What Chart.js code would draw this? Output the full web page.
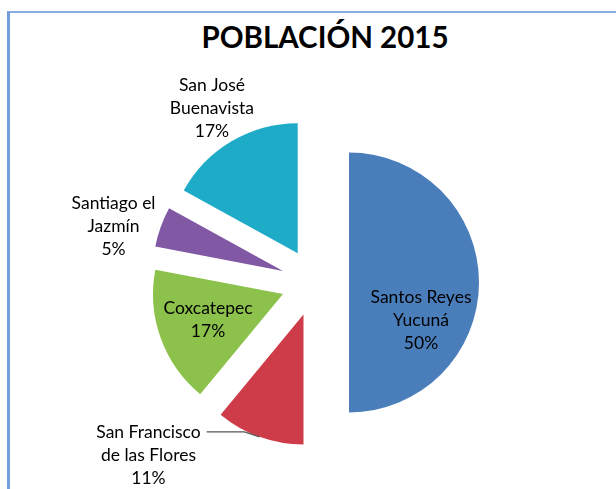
<!DOCTYPE html>
<html>
<head>
<meta charset="utf-8">
<script src="https://cdn.jsdelivr.net/npm/chart.js@4"></script>
<style>
  body { margin: 0; background: #fff; }
  #wrap { position: relative; width: 616px; height: 489px; overflow: hidden; }
  #frame {
    position: absolute; left: 7px; top: 11px; width: 700px; height: 600px;
    border-left: 3px solid #6f9fdc; border-top: 2px solid #86aee0;
  }
  #title {
    position: absolute; left: 0; top: 22px; width: 650px; text-align: center;
    font: bold 29.5px Lato, sans-serif; line-height: 30px; color: #000;
  }
  canvas { position: absolute; left: 0; top: 0; }
</style>
</head>
<body>
<div id="wrap">
  <div id="frame"></div>
  <div id="title">POBLACIÓN 2015</div>
  <canvas id="popChart" width="616" height="489"></canvas>
</div>
<script>
// Data
const categories = ['Santos Reyes Yucuná', 'San Francisco de las Flores', 'Coxcatepec', 'Santiago el Jazmín', 'San José Buenavista'];
const shares = [50, 11, 17, 5, 17];
const labelLines = [['Santos Reyes', 'Yucuná'], ['San Francisco', 'de las Flores'], ['Coxcatepec'], ['Santiago el', 'Jazmín'], ['San José', 'Buenavista']];
const sliceColors = ['#4a7ebb', '#cd3c48', '#8cc24b', '#8058a3', '#1eabc8'];

// label placement around the pie centre: [angle in degrees, distance in radii]
const labelPlace = [[19.5, 0.865], [134, 1.844], [160.7, 0.872], [195.6, 1.609], [239.4, 1.557]];
const leader = [false, true, false, false, false];

const RADIUS = 130;
const EXPLODE = 136; // chart.js moves each slice by offset / 4

// chart.js grows the radius by (offset/4)*fix and trims the slice angle for it,
// undo both so every slice keeps the same radius and its full angle
const evenRadius = {
    id: 'evenRadius',
    beforeDatasetsDraw(chart) {
        chart.getDatasetMeta(0).data.forEach(arc => {
            if (!arc.$base) arc.$base = [arc.startAngle, arc.endAngle];
            const fix = 1 - Math.sin(Math.min(Math.PI, arc.circumference));
            const grow = (EXPLODE / 4) * fix;
            const trim = grow / (2 * Math.PI * RADIUS);
            arc.outerRadius = RADIUS - grow;
            arc.startAngle = arc.$base[0] - trim;
            arc.endAngle = arc.$base[1] + trim;
        });
    }
};

const sliceLabels = {
    id: 'sliceLabels',
    afterDatasetsDraw(chart) {
        const ctx = chart.ctx;
        const meta = chart.getDatasetMeta(0);
        const lineH = 23;
        ctx.save();
        ctx.font = '17.5px Lato, sans-serif';
        ctx.fillStyle = '#000';
        ctx.textAlign = 'center';
        ctx.textBaseline = 'middle';
        meta.data.forEach((arc, i) => {
            const a = labelPlace[i][0] * Math.PI / 180;
            const cx = arc.x + Math.cos(a) * labelPlace[i][1] * RADIUS;
            const cy = arc.y + Math.sin(a) * labelPlace[i][1] * RADIUS;
            const lines = labelLines[i].concat([shares[i] + '%']);
            const top = cy - (lines.length - 1) * lineH / 2;
            lines.forEach((t, j) => ctx.fillText(t, cx, top + j * lineH));

            if (leader[i]) {
                const mid = (arc.startAngle + arc.endAngle) / 2;
                const sx = arc.x + Math.cos(mid) * EXPLODE / 4;
                const sy = arc.y + Math.sin(mid) * EXPLODE / 4;
                const ex = sx + Math.cos(mid) * RADIUS;
                const ey = sy + Math.sin(mid) * RADIUS;
                const x0 = cx + ctx.measureText(lines[0]).width / 2 + 6;
                ctx.beginPath();
                ctx.moveTo(x0, top);
                ctx.lineTo(ex - 15, top);
                ctx.lineTo(ex, ey);
                ctx.strokeStyle = '#555';
                ctx.lineWidth = 1.2;
                ctx.stroke();
            }
        });
        ctx.restore();
    }
};

new Chart(document.getElementById('popChart'), {
    type: 'pie',
    data: {
        labels: categories,
        datasets: [{
            data: shares,
            backgroundColor: sliceColors,
            borderWidth: 0,
            offset: EXPLODE,
            hoverOffset: EXPLODE
        }]
    },
    options: {
        responsive: false,
        animation: false,
        events: [],
        radius: RADIUS,
        layout: { padding: { left: 14, right: 0, top: 76, bottom: 0 } },
        plugins: {
            legend: { display: false },
            tooltip: { enabled: false },
            title: { display: false }
        }
    },
    plugins: [evenRadius, sliceLabels]
});
</script>
</body>
</html>
